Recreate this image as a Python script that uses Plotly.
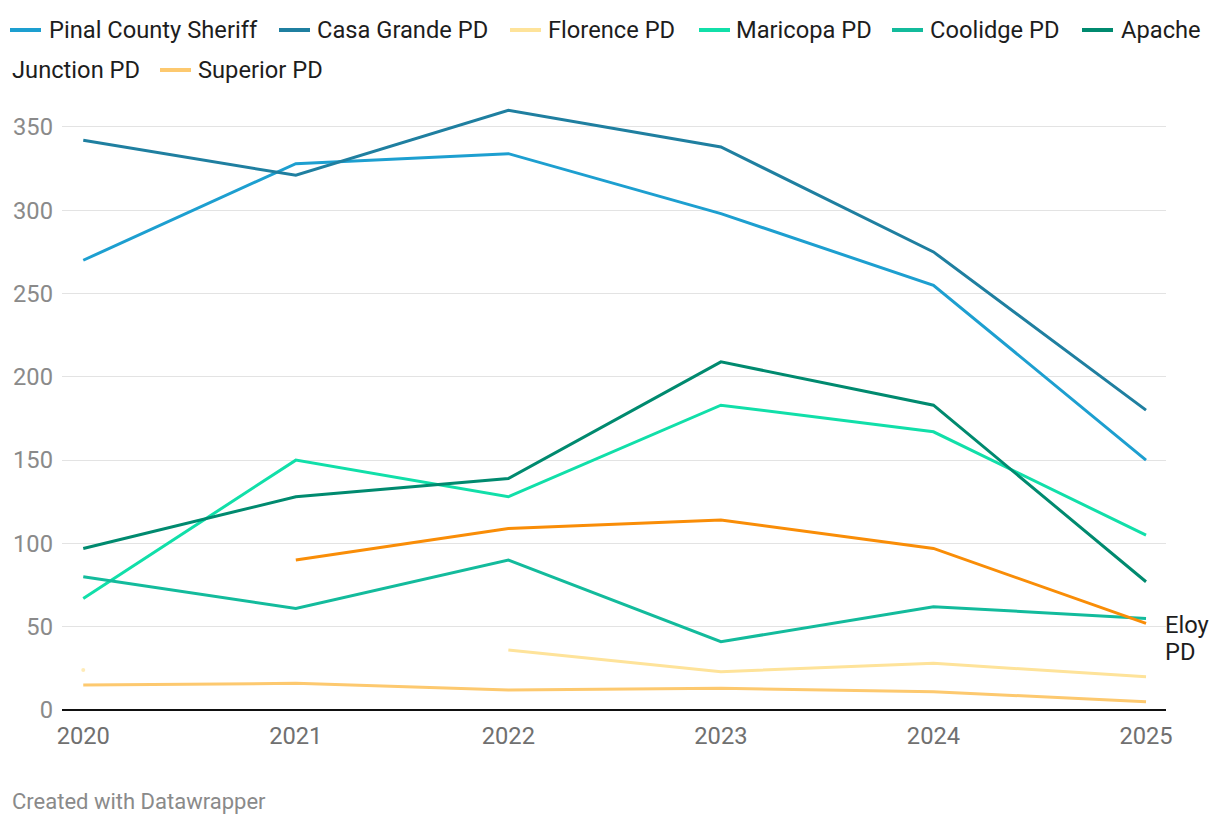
import plotly.graph_objects as go

years = [2020, 2021, 2022, 2023, 2024, 2025]

pinal_county_sheriff = [270, 328, 334, 298, 255, 150]
casa_grande_pd = [342, 321, 360, 338, 275, 180]
florence_pd = [24, None, 36, 23, 28, 20]
maricopa_pd = [67, 150, 128, 183, 167, 105]
coolidge_pd = [80, 61, 90, 41, 62, 55]
apache_junction_pd = [97, 128, 139, 209, 183, 77]
superior_pd = [15, 16, 12, 13, 11, 5]
eloy_pd = [None, 90, 109, 114, 97, 52]

series_names = ["Pinal County Sheriff", "Casa Grande PD", "Florence PD", "Maricopa PD",
                "Coolidge PD", "Apache Junction PD", "Superior PD", "Eloy PD"]
series_values = [pinal_county_sheriff, casa_grande_pd, florence_pd, maricopa_pd,
                 coolidge_pd, apache_junction_pd, superior_pd, eloy_pd]
colors = ["#1d9fd0", "#1f7fa0", "#fee39a", "#11dfa9", "#13bb9c", "#008a6f", "#fdc96f", "#f98d07"]

W, H = 1220, 826
L, R, T, B = 62, 54, 100, 116
PW = W - L - R
PH = H - T - B
FS = 23.7
TXT = "#1d1d1d"

fig = go.Figure()
for name, vals, col in zip(series_names, series_values, colors):
    # isolated points (no neighbours) get a small dot, as in the reference
    sizes = []
    for i, v in enumerate(vals):
        prev_ok = i > 0 and vals[i - 1] is not None
        next_ok = i < len(vals) - 1 and vals[i + 1] is not None
        sizes.append(4 if (v is not None and not prev_ok and not next_ok) else 0)
    fig.add_trace(go.Scatter(
        x=years, y=vals, name=name, mode="lines+markers",
        line=dict(color=col, width=3), marker=dict(size=sizes, color=col, line=dict(width=0)),
        connectgaps=False, showlegend=False, hoverinfo="x+y+name",
    ))

# Direct label for Eloy PD
fig.add_annotation(x=years[-1], y=eloy_pd[-1], text="Eloy", showarrow=False,
                   xanchor="left", yanchor="middle", xshift=17, yshift=-2,
                   font=dict(size=FS, color=TXT, family="Roboto"))
fig.add_annotation(x=years[-1], y=eloy_pd[-1], text="PD", showarrow=False,
                   xanchor="left", yanchor="middle", xshift=17, yshift=-29,
                   font=dict(size=FS, color=TXT, family="Roboto"))

def px_to_paper_x(px):
    return (px - L) / PW

def px_to_paper_y(py):
    return (H - B - py) / PH

# Custom legend (wrapping like the reference)
legend_items = [
    ("Pinal County Sheriff", 0, 10, 49, 30),
    ("Casa Grande PD", 1, 279, 317, 30),
    ("Florence PD", 2, 510, 548, 30),
    ("Maricopa PD", 3, 699, 736, 30),
    ("Coolidge PD", 4, 892, 930, 30),
    ("Apache", 5, 1082, 1121, 30),
    ("Superior PD", 6, 160, 198, 70),
]
for text, ci, sx, tx, cy in legend_items:
    fig.add_shape(type="line", xref="paper", yref="paper",
                  x0=px_to_paper_x(sx), x1=px_to_paper_x(sx + 31),
                  y0=px_to_paper_y(cy), y1=px_to_paper_y(cy),
                  line=dict(color=colors[ci], width=4))
    fig.add_annotation(xref="paper", yref="paper", x=px_to_paper_x(tx - 2), y=px_to_paper_y(cy),
                       text=text, showarrow=False, xanchor="left", yanchor="middle",
                       font=dict(size=FS, color=TXT, family="Roboto"))
fig.add_annotation(xref="paper", yref="paper", x=px_to_paper_x(10), y=px_to_paper_y(70),
                   text="Junction PD", showarrow=False, xanchor="left", yanchor="middle",
                   font=dict(size=FS, color=TXT, family="Roboto"))

# Footer
fig.add_annotation(xref="paper", yref="paper", x=px_to_paper_x(10), y=px_to_paper_y(802),
                   text="Created with Datawrapper", showarrow=False, xanchor="left", yanchor="middle",
                   font=dict(size=22, color="#8a8a8a", family="Roboto"))

fig.update_layout(
    width=W, height=H,
    margin=dict(l=L, r=R, t=T, b=B, pad=0),
    paper_bgcolor="white", plot_bgcolor="white",
    font=dict(family="Roboto", size=FS, color="#8a8a8a"),
    showlegend=False,
    xaxis=dict(range=[2019.9, 2025.094], tickvals=years, ticktext=[str(y) for y in years],
               showgrid=False, zeroline=False, showline=False, ticks="",
               tickfont=dict(size=FS, color="#707070"), ticklabelstandoff=9),
    yaxis=dict(range=[0, 366.2], tickvals=[0, 50, 100, 150, 200, 250, 300, 350],
               showgrid=True, gridcolor="#e3e3e3", gridwidth=1,
               zeroline=True, zerolinecolor="#111111", zerolinewidth=2,
               showline=False, ticks="", tickfont=dict(size=FS, color="#8a8a8a"),
               ticklabelstandoff=8),
)

fig.write_html("out.html", config={"displayModeBar": False},
               post_script="document.body.style.margin='0';document.body.style.padding='0';")
